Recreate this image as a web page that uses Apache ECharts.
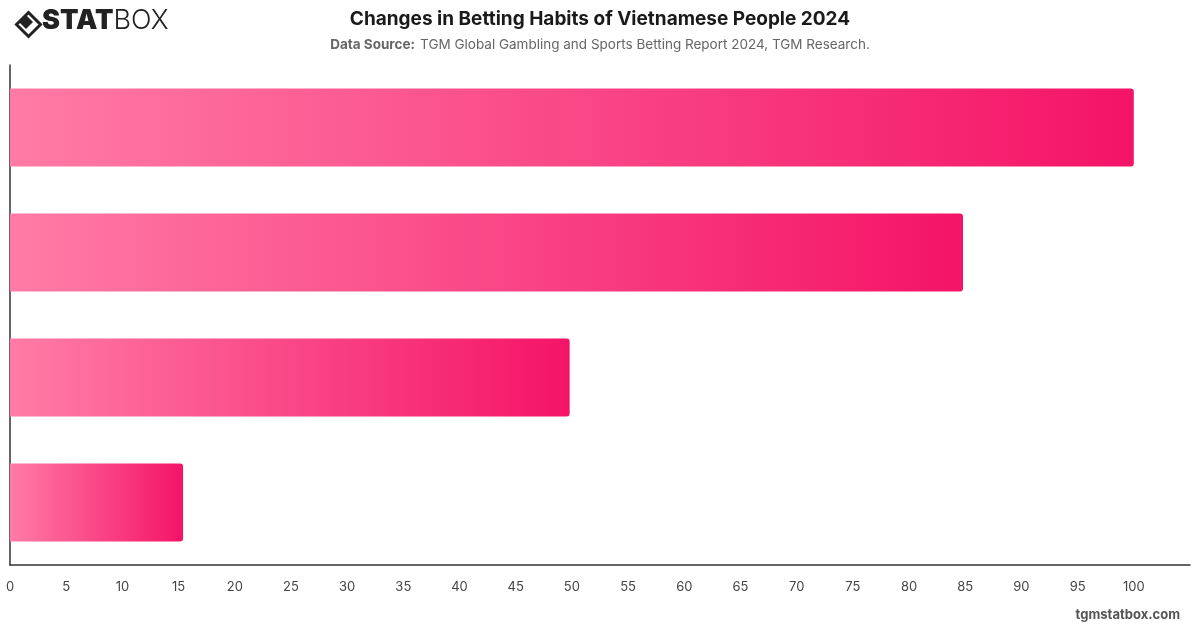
<!DOCTYPE html>
<html>
<head>
<meta charset="utf-8">
<title>Changes in Betting Habits of Vietnamese People 2024</title>
<script src="https://cdn.jsdelivr.net/npm/echarts@6/dist/echarts.min.js"></script>
<style>
  html, body { margin: 0; padding: 0; background: #fff; }
  #chart { width: 1200px; height: 628px; }
</style>
</head>
<body>
<div id="chart"></div>
<script>
// categories are not printed on the reference chart, so names are kept hidden
var categories = ['Betting more', 'Betting the same', 'Betting less', 'Stopped betting']
var values = [100, 84.8, 49.8, 15.4]
var tickMin = 0
var tickMax = 105
var tickStep = 5

var chart = echarts.init(document.getElementById('chart'))
var font = 'Inter, "Noto Sans", sans-serif'

var option = {
  backgroundColor: '#fff',
  textStyle: { fontFamily: font },
  title: [{
    text: 'Changes in Betting Habits of Vietnamese People 2024',
    left: 'center',
    top: 5,
    textStyle: { fontSize: 19, fontWeight: 'bold', color: '#1a1a1a', fontFamily: font }
  }, {
    text: '{b|Data Source:} {n|TGM Global Gambling and Sports Betting Report 2024, TGM Research.}',
    left: 'center',
    top: 31,
    textStyle: {
      fontWeight: 'normal',
      rich: {
        b: { fontSize: 13.5, fontWeight: 'bold', color: '#666', fontFamily: font },
        n: { fontSize: 13.5, fontWeight: 'normal', color: '#666', fontFamily: font }
      }
    }
  }],
  graphic: [
    // logo: outlined diamond with a filled one inside
    {
      type: 'polygon', left: 14, top: 10,
      shape: { points: [[12, 0], [24, 12], [12, 24], [0, 12]] },
      style: { fill: 'none', stroke: '#222', lineWidth: 3 }
    },
    {
      type: 'polygon', left: 19, top: 15,
      shape: { points: [[7, 0], [14, 7], [7, 14], [0, 7]] },
      style: { fill: '#222' }
    },
    {
      type: 'text', left: 42, top: 7,
      style: {
        text: '{s|STAT}{b|BOX}',
        rich: {
          s: { fontSize: 27, fontWeight: 900, fill: '#222', fontFamily: font },
          b: { fontSize: 27, fontWeight: 300, fill: '#222', fontFamily: font }
        }
      }
    },
    {
      type: 'text', right: 20, top: 609,
      style: { text: 'tgmstatbox.com', fontSize: 13, fontWeight: 'bold', fill: '#555', fontFamily: font }
    }
  ],
  grid: { left: 10, right: 10, top: 65, bottom: 63, containLabel: false },
  xAxis: {
    type: 'value',
    min: tickMin,
    max: tickMax,
    interval: tickStep,
    axisLine: { show: true, lineStyle: { color: '#333', width: 1.5 } },
    axisTick: { show: false },
    splitLine: { show: false },
    axisLabel: {
      color: '#444',
      fontSize: 13,
      margin: 16,
      formatter: function (v) { return v > 100 ? '' : v }
    }
  },
  yAxis: {
    type: 'category',
    data: categories,
    inverse: true,
    axisLine: { show: true, lineStyle: { color: '#333', width: 1.5 } },
    axisTick: { show: false },
    axisLabel: { show: false }
  },
  series: [{
    type: 'bar',
    data: values,
    barCategoryGap: '37.6%',
    itemStyle: {
      borderRadius: [0, 3, 3, 0],
      color: new echarts.graphic.LinearGradient(0, 0, 1, 0, [
        { offset: 0, color: '#ff7ba6' },
        { offset: 1, color: '#f41467' }
      ])
    }
  }]
}
chart.setOption(option)
</script>
</body>
</html>
